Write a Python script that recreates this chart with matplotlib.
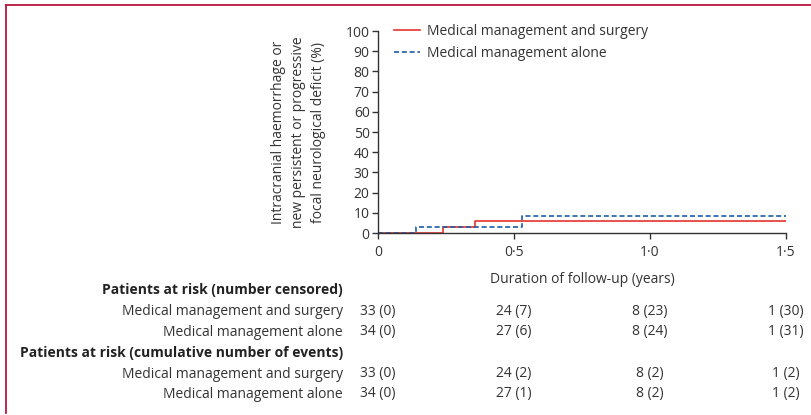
import matplotlib.pyplot as plt
from matplotlib.lines import Line2D

# step data (years, %)
surg_t = [0, 0.239, 0.357, 1.5]
surg_y = [0, 3.0, 6.1, 6.1]
alone_t = [0, 0.14, 0.53, 1.5]
alone_y = [0, 2.9, 8.3, 8.3]

xticks = [0, 0.5, 1.0, 1.5]
xticklabels = ['0', '0·5', '1·0', '1·5']
yticks = list(range(0, 101, 10))

groups = ['Medical management and surgery', 'Medical management alone']
headers = ['Patients at risk (number censored)',
           'Patients at risk (cumulative number of events)']
censored = [['33 (0)', '24 (7)', '8 (23)', '1 (30)'],
            ['34 (0)', '27 (6)', '8 (24)', '1 (31)']]
events = [['33 (0)', '24 (2)', '8 (2)', '1 (2)'],
          ['34 (0)', '27 (1)', '8 (2)', '1 (2)']]

red = '#e8312a'
blue = '#1d5ea8'
dark = '#333333'
frame = '#b5173f'
font = 'Open Sans'

fig = plt.figure(figsize=(8.11, 4.15), dpi=100)
ax_bottom = 1 - 233/415
ax_height = 202/415
ax = fig.add_axes([378/811, ax_bottom, 408/811, ax_height])
renderer = fig.canvas.get_renderer()

# size the text so a row label is as wide as in the reference (~222 px)
probe = fig.text(0, 0, groups[0], family=font, fontsize=10)
fs = 10 * 222 / probe.get_window_extent(renderer).width
probe.remove()

ax.step(surg_t, surg_y, where='post', color=red, lw=1.2)
ax.step(alone_t, alone_y, where='post', color=blue, lw=1.2, ls=(0, (3, 1.7)))

ax.set_xlim(0, 1.5)
ax.set_ylim(0, 100)
ax.set_xticks(xticks)
ax.set_xticklabels(xticklabels, family=font, fontsize=fs, color=dark)
ax.set_yticks(yticks)
ax.set_yticklabels([str(v) for v in yticks], family=font, fontsize=fs, color=dark)
ax.tick_params(length=4, width=1, color=dark)
ax.tick_params(axis='x', pad=5)
ax.tick_params(axis='y', pad=2)
for s in ['top', 'right']:
    ax.spines[s].set_visible(False)
for s in ['left', 'bottom']:
    ax.spines[s].set_color(dark)
    ax.spines[s].set_linewidth(1)

ax.set_ylabel('Intracranial haemorrhage or\nnew persistent or progressive\nfocal neurological deficit (%)',
              family=font, fontsize=fs, color=dark, linespacing=1.45, labelpad=14)
ax.set_xlabel('Duration of follow-up (years)', family=font, fontsize=fs, color=dark, labelpad=8)

ax.legend(handles=[Line2D([], [], color=red, lw=1.2),
                   Line2D([], [], color=blue, lw=1.2, ls=(0, (3, 1.7)))],
          labels=groups, loc='upper left', bbox_to_anchor=(0.008, 1.095), frameon=False,
          handlelength=1.9, handletextpad=0.45, labelspacing=0.5,
          prop={'family': font, 'size': fs}, labelcolor=dark)

# risk table
rows_y = [290, 311, 332, 353, 374, 394]
lab_x = 343 / 811


def fy(p):
    return 1 - p / 415


for yy, head in zip([rows_y[0], rows_y[3]], headers):
    fig.text(lab_x, fy(yy), head, ha='right', va='center', family=font,
             fontsize=fs, weight='bold', color='#222222')

for i, (yy, vals) in enumerate(zip([rows_y[1], rows_y[2], rows_y[4], rows_y[5]],
                                   [censored[0], censored[1], events[0], events[1]])):
    fig.text(lab_x, fy(yy), groups[i % 2], ha='right', va='center', family=font,
             fontsize=fs, color=dark)
    for tx, v in zip(xticks, vals):
        ax.text(tx, (fy(yy) - ax_bottom) / ax_height, v, transform=ax.get_xaxis_transform(),
                ha='center', va='center', family=font, fontsize=fs, color=dark, clip_on=False)

# crimson frame top and left
fig.add_artist(Line2D([6/811, 1], [1-5/415, 1-5/415], color=frame, lw=1.3, transform=fig.transFigure))
fig.add_artist(Line2D([6/811, 6/811], [1-5/415, 1-413/415], color=frame, lw=1.3, transform=fig.transFigure))

fig.savefig('out.png', dpi=100)
